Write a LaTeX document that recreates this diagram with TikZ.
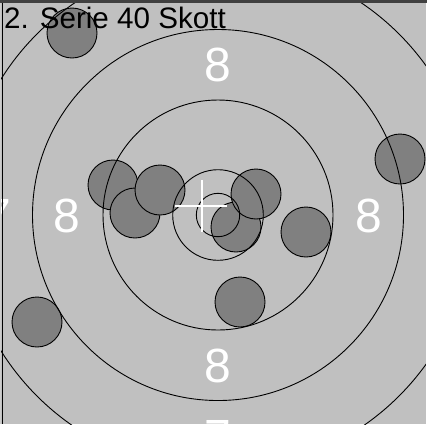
\documentclass[tikz,border=0pt]{standalone}
\usepackage{fontspec}
\setmainfont{Liberation Sans}
\usetikzlibrary{positioning}

\definecolor{cible}{RGB}{192,192,192}
\definecolor{impact}{RGB}{128,128,128}
\definecolor{cadre}{RGB}{64,64,64}

\begin{document}
\begin{tikzpicture}[x=1pt, y=-1pt,
  ring/.style={black, line width=0.9pt},
  shot/.style={fill=impact, draw=black, line width=0.9pt},
  num/.style={white, inner sep=0pt, font=\fontsize{48}{48}\selectfont},
  croix/.style={white, line width=2.3pt}]
  \useasboundingbox (0,0) rectangle (427,424);

  % Fond de la cible
  \fill[cible] (0,0) rectangle (427,424);

  \begin{scope}
    \clip (0,0) rectangle (427,424);

    % Impacts (dans l'ordre des tirs)
    \foreach \x/\y in {113/185, 135/213, 160/190, 236/227, 256/194,
                       306/232, 240/302, 400/159, 37/322, 72/33} {
      \filldraw[shot] (\x,\y) circle (25);
    }

    % Anneaux (par-dessus les impacts)
    \foreach \r in {21.7, 45.3, 115, 185.5, 256} {
      \draw[ring] (218,215) circle (\r);
    }

    % Valeurs des zones
    \node[num] (huitH) at (218,64.5) {8};
    \node[num] (huitG) at (67,215.5) {8};
    \node[num] (huitD) at (369,215.5) {8};
    \node[num] (huitB) at (218,365.5) {8};
    \node[num] (septG) at (-2.5,215.5) {7};
    \node[num] (septB) at (218,436.5) {7};

    % Croix du point visé
    \draw[croix] (175,206.2) -- (227,206.2);
    \draw[croix] (201.7,180) -- (201.7,232);
  \end{scope}

  % Titre
  \node[anchor=base west, inner sep=0pt, font=\fontsize{29.6}{30}\selectfont]
    (titre) at (4,28) {2. Serie 40 Skott};

  % Cadre
  \fill[cadre] (0,0) rectangle (427,2.5);
  \draw[white!80!black, line width=1pt] (0.5,2.5) -- (0.5,424);
  \draw[black, line width=1.2pt] (2.6,2.5) -- (2.6,424);
  \draw[white, line width=1pt] (426.5,2.5) -- (426.5,424);
\end{tikzpicture}
\end{document}
